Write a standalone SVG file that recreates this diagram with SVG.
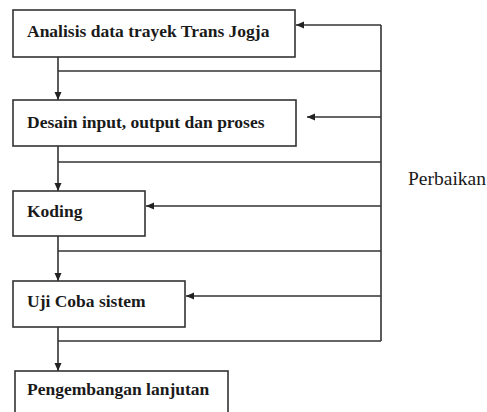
<svg xmlns="http://www.w3.org/2000/svg" width="487" height="412" viewBox="0 0 487 412">
<style>
.box{fill:#fff;stroke:#333;stroke-width:1.6}
.lbl{font-family:'Liberation Serif','DejaVu Serif',serif;font-size:17.5px;font-weight:bold;fill:#1a1a1a}
.side{font-family:'Liberation Serif','DejaVu Serif',serif;font-size:19.5px;fill:#1a1a1a}
.ln{fill:none;stroke:#333;stroke-width:1.6}
</style>
<defs>
<marker id="ah" markerUnits="userSpaceOnUse" markerWidth="9" markerHeight="8" refX="8" refY="4" orient="auto">
<path d="M0,0.5 L8,4 L0,7.5 z" fill="#222"/>
</marker>
</defs>
<rect width="487" height="412" fill="#fff"/>
<g id="connectors">
<path class="ln" d="M381,25 V341"/>
<path class="ln" d="M381,25 H296" marker-end="url(#ah)"/>
<path class="ln" d="M381,117 H307" marker-end="url(#ah)"/>
<path class="ln" d="M381,206 H146" marker-end="url(#ah)"/>
<path class="ln" d="M381,296 H186" marker-end="url(#ah)"/>
<path class="ln" d="M58,71 H381"/>
<path class="ln" d="M58,162 H381"/>
<path class="ln" d="M58,251 H381"/>
<path class="ln" d="M58,341 H381"/>
<path class="ln" d="M58,57 V100" marker-end="url(#ah)"/>
<path class="ln" d="M58,146 V191" marker-end="url(#ah)"/>
<path class="ln" d="M58,236 V281" marker-end="url(#ah)"/>
<path class="ln" d="M58,327 V371" marker-end="url(#ah)"/>
</g>
<g id="n1">
<rect class="box" x="13" y="10" width="282" height="47"/>
<text class="lbl" x="27" y="37">Analisis data trayek Trans Jogja</text>
</g>
<g id="n2">
<rect class="box" x="13" y="100" width="283" height="46"/>
<text class="lbl" x="27" y="128">Desain input, output dan proses</text>
</g>
<g id="n3">
<rect class="box" x="13" y="191" width="132" height="45"/>
<text class="lbl" x="27" y="217">Koding</text>
</g>
<g id="n4">
<rect class="box" x="13" y="281" width="172" height="46"/>
<text class="lbl" x="27" y="307">Uji Coba sistem</text>
</g>
<g id="n5">
<rect class="box" x="15" y="371" width="213" height="50"/>
<text class="lbl" x="27" y="395">Pengembangan lanjutan</text>
</g>
<g id="perbaikan">
<text class="side" x="408" y="185">Perbaikan</text>
</g>
</svg>
